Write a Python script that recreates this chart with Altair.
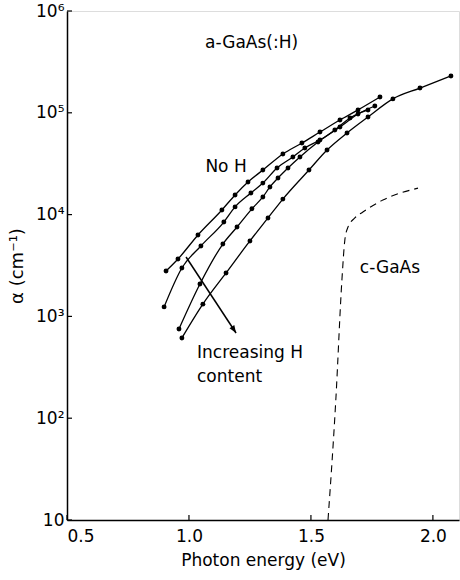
import altair as alt
import pandas as pd

# --- data ---
c1_x = [0.906, 0.955, 1.037, 1.135, 1.189, 1.242, 1.303, 1.385, 1.463, 1.537, 1.619, 1.693, 1.783]
c1_y = [2790, 3660, 6310, 11100, 15600, 20900, 27400, 39400, 50500, 64700, 84900, 106700, 142900]

c2_x = [0.898, 0.971, 1.049, 1.143, 1.189, 1.254, 1.303, 1.361, 1.426, 1.475, 1.537, 1.619, 1.693, 1.762]
c2_y = [1240, 2990, 4920, 8450, 11900, 16300, 20400, 28700, 36800, 45100, 54000, 72600, 97300, 116700]

c3_x = [0.959, 1.045, 1.139, 1.197, 1.258, 1.303, 1.332, 1.365, 1.406, 1.455, 1.529, 1.598, 1.660, 1.734]
c3_y = [752, 2080, 5140, 7550, 11400, 14900, 18700, 22900, 28700, 36800, 51600, 67700, 88900, 106700]

c4_x = [0.971, 1.057, 1.152, 1.250, 1.324, 1.385, 1.492, 1.566, 1.648, 1.734, 1.836, 1.947, 2.074]
c4_y = [614, 1320, 2670, 5510, 9270, 14200, 27400, 43100, 63400, 91000, 137000, 175000, 230000]

cryst_x = [1.570, 1.602, 1.627, 1.639, 1.652, 1.680, 1.713, 1.795, 1.939]
cryst_y = [10, 151, 2280, 5620, 7550, 9270, 10600, 13900, 18200]

arrow_x = [0.988, 1.193]
arrow_y = [3830, 687]

label_text = ["a-GaAs(:H)", "No H", "Increasing H", "content", "c-GaAs"]
label_x = [1.066, 1.152, 1.033, 1.033, 1.824]
label_y = [485000, 29400, 437, 255, 2985]
label_align = ["left", "center", "left", "left", "center"]

x_ticks = [0.5, 1.0, 1.5, 2.0]
y_ticks = [10, 100, 1000, 10000, 100000, 1000000]

FONT = "DejaVu Sans"
W, H = 392, 509

rows = []
for name, xs, ys in [("c1", c1_x, c1_y), ("c2", c2_x, c2_y), ("c3", c3_x, c3_y), ("c4", c4_x, c4_y)]:
    for i, (a, b) in enumerate(zip(xs, ys)):
        rows.append({"curve": name, "E": a, "alpha": b, "i": i})
df = pd.DataFrame(rows)
df_c = pd.DataFrame({"E": cryst_x, "alpha": cryst_y, "i": list(range(len(cryst_x)))})
df_arrow = pd.DataFrame({"E": [arrow_x[0]], "alpha": [arrow_y[0]], "E2": [arrow_x[1]], "alpha2": [arrow_y[1]]})
df_head = pd.DataFrame({"E": [arrow_x[1]], "alpha": [arrow_y[1]]})
df_xt = pd.DataFrame({"E": x_ticks})
df_yt = pd.DataFrame({"alpha": y_ticks})
texts_df = pd.DataFrame({"E": label_x, "alpha": label_y, "t": label_text, "align": label_align})

xscale = alt.Scale(domain=[0.5, 2.107], nice=False, zero=False)
yscale = alt.Scale(type="log", domain=[10, 1e6], nice=False)

label_expr = ("datum.value == 1000000 ? '10⁶' : datum.value == 100000 ? '10⁵' : "
              "datum.value == 10000 ? '10⁴' : datum.value == 1000 ? '10³' : "
              "datum.value == 100 ? '10²' : '10'")

xaxis = alt.Axis(values=x_ticks, format=".1f", title="Photon energy (eV)", grid=False,
                 ticks=False, domainColor="black", domainWidth=1.5,
                 labelFont=FONT, labelFontSize=17, labelColor="black", labelPadding=8,
                 titleFont=FONT, titleFontSize=17, titleFontWeight="normal", titleColor="black",
                 titlePadding=8)
yaxis = alt.Axis(values=y_ticks, labelExpr=label_expr, title="α  (cm⁻¹)", grid=False,
                 ticks=False, domainColor="black", domainWidth=1.5,
                 labelFont=FONT, labelFontSize=17, labelColor="black", labelPadding=3,
                 titleFont=FONT, titleFontSize=18, titleFontWeight="normal", titleColor="black",
                 titlePadding=9)

base = alt.Chart(df)
lines = base.mark_line(color="black", strokeWidth=1.3, interpolate="monotone").encode(
    x=alt.X("E:Q", scale=xscale, axis=xaxis),
    y=alt.Y("alpha:Q", scale=yscale, axis=yaxis),
    detail="curve:N",
    order="i:Q",
)
points = base.mark_circle(color="black", size=24, opacity=1).encode(
    x=alt.X("E:Q", scale=xscale),
    y=alt.Y("alpha:Q", scale=yscale),
)
cryst = alt.Chart(df_c).mark_line(color="black", strokeWidth=1.1, strokeDash=[7, 5],
                                  interpolate="monotone").encode(
    x=alt.X("E:Q", scale=xscale),
    y=alt.Y("alpha:Q", scale=yscale),
    order="i:Q",
)
arrow = alt.Chart(df_arrow).mark_rule(color="black", strokeWidth=1.5).encode(
    x=alt.X("E:Q", scale=xscale),
    y=alt.Y("alpha:Q", scale=yscale),
    x2="E2:Q",
    y2="alpha2:Q",
)
head = alt.Chart(df_head).mark_point(shape="M-0.6,-1.6 L0.6,-1.6 L0,0 Z", filled=True, color="black",
                                     size=90, opacity=1, angle=327).encode(
    x=alt.X("E:Q", scale=xscale),
    y=alt.Y("alpha:Q", scale=yscale),
)
xticks = alt.Chart(df_xt).mark_rule(color="black", strokeWidth=1.2).encode(
    x=alt.X("E:Q", scale=xscale),
    y=alt.value(H),
    y2=alt.value(H - 5),
)
yticks = alt.Chart(df_yt).mark_rule(color="black", strokeWidth=1.2).encode(
    y=alt.Y("alpha:Q", scale=yscale),
    x=alt.value(0),
    x2=alt.value(5),
)

txt_left = alt.Chart(texts_df[texts_df["align"] == "left"]).mark_text(
    font=FONT, fontSize=17, color="black", align="left", baseline="middle").encode(
    x=alt.X("E:Q", scale=xscale), y=alt.Y("alpha:Q", scale=yscale), text="t:N")
txt_center = alt.Chart(texts_df[texts_df["align"] == "center"]).mark_text(
    font=FONT, fontSize=17, color="black", align="center", baseline="middle").encode(
    x=alt.X("E:Q", scale=xscale), y=alt.Y("alpha:Q", scale=yscale), text="t:N")

chart = alt.layer(lines, points, cryst, arrow, head, xticks, yticks, txt_left, txt_center).properties(
    width=W, height=H,
    autosize=alt.AutoSizeParams(type="none"),
    padding={"left": 67, "top": 11, "right": 1, "bottom": 60},
).configure_view(stroke="black", strokeWidth=1.5).configure(background="white")

chart.save("out.html", embed_options={"renderer": "svg", "actions": False})
